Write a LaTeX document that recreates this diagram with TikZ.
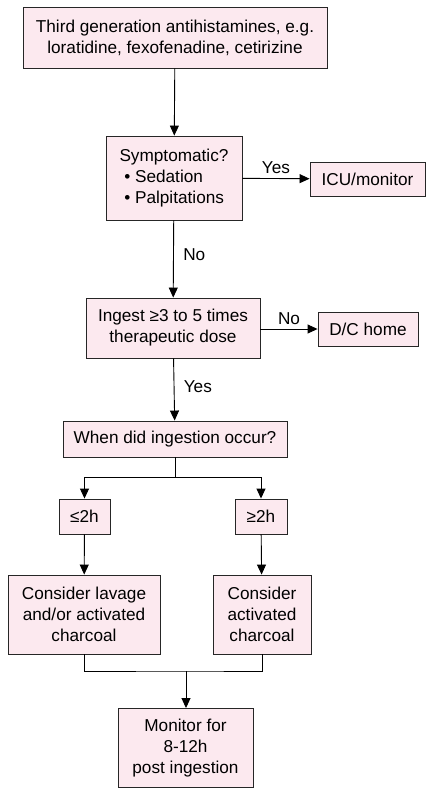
\documentclass[tikz,border=0pt]{standalone}
\usepackage{fontspec}
\setmainfont{Liberation Sans}
\usepackage{tikz}
\usetikzlibrary{arrows.meta}
\definecolor{boxpink}{RGB}{252,233,239}

\begin{document}
\begin{tikzpicture}[x=1pt,y=-1pt,
	every node/.style={black,font=\fontsize{17.2}{21}\selectfont},
	box/.style={draw=black!85,fill=boxpink,line width=0.9pt,align=center,inner sep=0pt},
	arr/.style={line width=0.9pt,-{Triangle[width=9pt,length=10pt]}},
	lin/.style={line width=0.9pt}]
	\useasboundingbox (0,0) rectangle (426,788);
	\node[box,minimum width=304pt,minimum height=61pt] (third) at (175,37.5)
		{Third generation antihistamines, e.g.\\loratidine, fexofenadine, cetirizine};
	\node[box,minimum width=136pt,minimum height=84pt,align=left] (symp) at (174,178)
		{Symptomatic?\\\ \textbullet\ Sedation\\\ \textbullet\ Palpitations};
	\node[box,minimum width=115pt,minimum height=34pt] (icu) at (367.5,179) {ICU/monitor};
	\node[box,minimum width=174pt,minimum height=60pt] (ingest) at (173,328)
		{Ingest ≥3 to 5 times\\therapeutic dose};
	\node[box,minimum width=100pt,minimum height=34pt] (home) at (368,329) {D/C home};
	\node[box,minimum width=224pt,minimum height=36pt] (when) at (175,439) {When did ingestion occur?};
	\node[box,minimum width=51pt,minimum height=35pt] (early) at (84.5,516.5) {≤2h};
	\node[box,minimum width=52pt,minimum height=35pt] (late) at (261,516.5) {≥2h};
	\node[box,minimum width=152pt,minimum height=79pt] (lavage) at (84,614.5)
		{Consider lavage\\and/or activated\\charcoal};
	\node[box,minimum width=98pt,minimum height=79pt] (charcoal) at (262,614.5)
		{Consider\\activated\\charcoal};
	\node[box,minimum width=135pt,minimum height=79pt] (watch) at (185.5,748)
		{Monitor for\\8-12h\\post ingestion};
	% connectors
	\draw[arr] (third) -- (symp);
	\draw[arr] (symp) -- node[above=1pt] {Yes} (icu);
	\draw[arr] (symp) -- node[right=6pt,pos=0.45] {No} (ingest);
	\draw[arr] (ingest.east |- home) -- node[above=1pt] {No} (home);
	\draw[arr] (ingest) -- node[right=6pt,pos=0.45] {Yes} (when);
	\coordinate (split) at (175,477);
	\draw[lin] (when) -- (split);
	\draw[arr] (split) -| (early);
	\draw[arr] (split) -| (late);
	\draw[arr] (early) -- (lavage);
	\draw[arr] (late) -- (charcoal);
	\coordinate (join) at (186,671);
	\draw[lin] (lavage) |- (join) -| (charcoal);
	\draw[arr] (join) -- (join |- watch.north);
\end{tikzpicture}
\end{document}
